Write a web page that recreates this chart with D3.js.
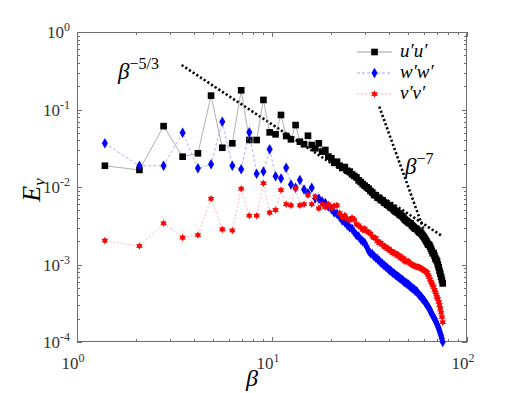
<!DOCTYPE html>
<html>
<head>
<meta charset="utf-8">
<script src="https://cdn.jsdelivr.net/npm/d3@7"></script>
<style>
  body { margin: 0; background: #fff; }
</style>
</head>
<body>
<div id="chart"></div>
<script>
// wavenumbers (beta)
var beta = [1.39,2.09,2.78,3.48,4.17,4.87,5.56,6.26,6.95,7.65,
  8.34,9.04,9.73,10.43,11.12,11.82,12.51,13.21,13.9,14.6,
  15.29,15.99,16.68,17.38,18.07,18.77,19.46,20.16,20.85,21.55,
  22.24,22.94,23.63,24.33,25.02,25.72,26.41,27.11,27.8,28.5,
  29.19,29.89,30.58,31.28,31.97,32.67,33.36,34.06,34.75,35.45,
  36.14,36.84,37.53,38.23,38.92,39.62,40.31,41.01,41.7,42.4,
  43.09,43.79,44.48,45.18,45.87,46.57,47.26,47.96,48.65,49.35,
  50.04,50.74,51.43,52.13,52.82,53.52,54.21,54.91,55.6,56.3,
  56.99,57.69,58.38,59.08,59.77,60.47,61.16,61.86,62.55,63.25,
  63.94,64.64,65.33,66.03,66.72,67.42,68.11,68.81,69.5,70.2,
  70.89,71.59,72.28,72.98,73.67,74.37,75.06];

var uu = [0.0188,0.0166,0.061,0.0246,0.0272,0.151,0.0321,0.0366,0.177,0.0404,
  0.0404,0.133,0.0507,0.0478,0.085,0.0455,0.0412,0.063,0.0384,0.0356,
  0.0459,0.0348,0.0316,0.0366,0.0286,0.030,0.0247,0.0235,0.0205,0.0212,
  0.0188,0.0176,0.0181,0.0162,0.0158,0.0146,0.0139,0.0133,0.0122,0.0116,
  0.0109,0.0104,0.0099,0.0095,0.0089,0.0085,0.0079,0.0078,0.0073,0.0072,
  0.0068,0.0067,0.0063,0.0062,0.0059,0.0058,0.0055,0.0054,0.0052,0.0050,
  0.0048,0.0047,0.0046,0.0044,0.0043,0.0042,0.0040,0.0038,0.0037,0.0036,
  0.0035,0.0034,0.0034,0.0032,0.0031,0.0030,0.0029,0.0029,0.0028,0.0027,
  0.0026,0.0026,0.0025,0.0024,0.0023,0.0022,0.0021,0.0020,0.0019,0.0018,
  0.0018,0.0017,0.0016,0.0015,0.0014,0.0014,0.0013,0.0012,0.00115,0.0011,
  0.0010,0.00092,0.00083,0.00076,0.00069,0.00063,0.00057];

var ww = [0.0366,0.0188,0.0188,0.0502,0.0174,0.0196,0.0697,0.0188,0.0169,0.0507,
  0.0148,0.0158,0.0306,0.0138,0.0129,0.0177,0.0108,0.0098,0.0123,0.0093,
  0.0083,0.0098,0.0071,0.0071,0.0065,0.0062,0.0056,0.0052,0.0047,0.0045,
  0.0041,0.0037,0.0035,0.0032,0.0030,0.0029,0.0026,0.0024,0.0023,0.0021,
  0.0020,0.0019,0.0017,0.0015,0.0014,0.00137,0.00128,0.00122,0.00118,0.00112,
  0.00106,0.00102,0.00098,0.00094,0.00091,0.00087,0.00084,0.00081,0.00078,0.00076,
  0.00073,0.00071,0.00069,0.00067,0.00065,0.00063,0.00061,0.00059,0.00058,0.00056,
  0.00055,0.00053,0.00052,0.00050,0.00049,0.00048,0.00046,0.00045,0.00044,0.00042,
  0.00040,0.00039,0.00038,0.00036,0.00035,0.00034,0.00032,0.00031,0.00030,0.00028,
  0.00027,0.00026,0.00024,0.00023,0.00022,0.00021,0.00020,0.00019,0.00018,0.00017,
  0.00016,0.00015,0.00014,0.00013,0.00012,0.00011,0.00010];

var vv = [0.00203,0.00173,0.0034,0.00222,0.0024,0.00706,0.00284,0.00275,0.0095,0.00426,
  0.00426,0.0112,0.00467,0.00505,0.00915,0.0060,0.0058,0.0096,0.0058,0.0060,
  0.0079,0.0060,0.0075,0.0053,0.0060,0.0055,0.0060,0.0053,0.0057,0.0058,
  0.0046,0.0041,0.0043,0.0039,0.0037,0.0040,0.0038,0.0033,0.0032,0.0030,
  0.0028,0.0029,0.0027,0.0026,0.0025,0.0023,0.0022,0.0022,0.0020,0.0019,
  0.0019,0.0018,0.0017,0.0017,0.0016,0.0016,0.0015,0.0015,0.0014,0.0014,
  0.0014,0.0013,0.0013,0.0013,0.0012,0.0012,0.0012,0.0011,0.0011,0.0011,
  0.0011,0.00105,0.00102,0.0010,0.00098,0.00096,0.00095,0.00094,0.00093,0.00093,
  0.00092,0.0009,0.00088,0.00087,0.00085,0.00083,0.00082,0.0008,0.00078,0.00073,
  0.00069,0.00064,0.0006,0.00057,0.00054,0.00051,0.00047,0.00044,0.00041,0.00038,
  0.00036,0.00033,0.0003,0.00027,0.00024,0.00021,0.00018];

var seriesNames = ["u\u2032u\u2032", "w\u2032w\u2032", "v\u2032v\u2032"];
// power-law guide lines: [beta, E] end points
var guide53 = [[3.44, 0.375], [75, 0.0023]];
var guide7 = [[35.5, 0.109], [59.7, 0.0029]];

var W = 512, H = 393;
var svg = d3.select("#chart").append("svg").attr("width", W).attr("height", H)
  .attr("font-family", "'Liberation Serif', 'Times New Roman', 'DejaVu Serif', serif");

var x = d3.scaleLog().domain([1, 100]).range([77, 467]);
var y = d3.scaleLog().domain([1e-4, 1]).range([342, 32]);

// minor + major ticks, all four sides, inside
var xt = [], yt = [];
for (var d = 1; d <= 100; d *= 10) for (var k = 1; k < 10; k++) if (d * k <= 100) xt.push(d * k);
for (var d = 1e-4; d <= 1.0001; d *= 10) for (var k = 1; k < 10; k++) if (d * k <= 1.0001) yt.push(d * k);
function isMajor(v) { var l = Math.log10(v); return Math.abs(l - Math.round(l)) < 1e-6; }

var g = svg.append("g").attr("stroke", "#6e6e6e").attr("stroke-width", 1);
xt.forEach(function(v) {
  var px = Math.round(x(v)) + 0.5, len = isMajor(v) ? 5 : 3;
  g.append("line").attr("x1", px).attr("x2", px).attr("y1", 342).attr("y2", 342 - len);
  g.append("line").attr("x1", px).attr("x2", px).attr("y1", 32).attr("y2", 32 + len);
});
yt.forEach(function(v) {
  var py = Math.round(y(v)) + 0.5, len = isMajor(v) ? 5 : 3;
  g.append("line").attr("y1", py).attr("y2", py).attr("x1", 77).attr("x2", 77 + len);
  g.append("line").attr("y1", py).attr("y2", py).attr("x1", 467).attr("x2", 467 - len);
});
svg.append("rect").attr("x", 77.5).attr("y", 32.5).attr("width", 389).attr("height", 309)
  .attr("fill", "none").attr("stroke", "#6e6e6e");

// tick labels
[1, 10, 100].forEach(function(v) {
  var t = svg.append("text").attr("x", x(v) - 4).attr("y", 369).attr("text-anchor", "middle")
    .attr("font-size", 17).attr("fill", "#333");
  t.append("tspan").text("10");
  t.append("tspan").attr("dy", -7).attr("font-size", 12).text(Math.round(Math.log10(v)));
});
[1e-4, 1e-3, 1e-2, 1e-1, 1].forEach(function(v) {
  var t = svg.append("text").attr("x", 70).attr("y", y(v) + 6).attr("text-anchor", "end")
    .attr("font-size", 17).attr("fill", "#333");
  t.append("tspan").text("10");
  t.append("tspan").attr("dy", -7).attr("font-size", 12).text(Math.round(Math.log10(v)));
});

// axis titles
svg.append("text").attr("x", 252).attr("y", 386).attr("text-anchor", "middle")
  .attr("font-size", 24).attr("font-style", "italic").text("\u03b2");
var yl = svg.append("text").attr("transform", "translate(40,190) rotate(-90)")
  .attr("text-anchor", "middle").attr("font-size", 26).attr("font-style", "italic");
yl.append("tspan").text("E");
yl.append("tspan").attr("dy", 5).attr("font-size", 17).text("\u03bd");

var plot = svg.append("g");

// guide lines
var gl = d3.line().x(function(d) { return x(d[0]); }).y(function(d) { return y(d[1]); });
[guide53, guide7].forEach(function(gd) {
  plot.append("path").attr("d", gl(gd)).attr("fill", "none").attr("stroke", "#000")
    .attr("stroke-width", 2.6).attr("stroke-dasharray", "2.2,2.2");
});

function guideLabel(px, py, sup) {
  var t = svg.append("text").attr("x", px).attr("y", py).attr("font-size", 23);
  t.append("tspan").attr("font-style", "italic").text("\u03b2");
  t.append("tspan").attr("dy", -10).attr("font-size", 16).text(sup);
}
guideLabel(118, 79, "\u22125/3");
guideLabel(405, 174, "\u22127");

// markers
function hexStar(size) {
  var pts = [], r1 = size, r2 = size * 0.55;
  for (var i = 0; i < 12; i++) {
    var a = Math.PI / 6 * i - Math.PI / 2, r = i % 2 ? r2 : r1;
    pts.push([r * Math.cos(a), r * Math.sin(a)]);
  }
  return "M" + pts.join("L") + "Z";
}
var sqPath = d3.symbol().type(d3.symbolSquare).size(44)();
var dmPath = d3.symbol().type(d3.symbolDiamond).size(32)();
var stPath = hexStar(3.8);

var series = [
  { vals: uu, color: "#000", line: "#8c8c8c", dash: null, marker: sqPath },
  { vals: ww, color: "#0000ff", line: "#8f8fff", dash: "3,2", marker: dmPath },
  { vals: vv, color: "#ff0000", line: "#ff9a9a", dash: "2,2", marker: stPath }
];

var line = d3.line().x(function(d) { return x(d[0]); }).y(function(d) { return y(d[1]); });

series.forEach(function(s) {
  var pts = beta.map(function(b, i) { return [b, s.vals[i]]; });
  plot.append("path").attr("d", line(pts)).attr("fill", "none")
    .attr("stroke", s.line).attr("stroke-width", 0.7).attr("stroke-dasharray", s.dash);
  plot.selectAll(null).data(pts).enter().append("path")
    .attr("d", s.marker).attr("fill", s.color)
    .attr("transform", function(d) { return "translate(" + x(d[0]) + "," + y(d[1]) + ")"; });
});

// legend
var lg = svg.append("g");
series.forEach(function(s, i) {
  var ly = 52 + i * 21;
  lg.append("line").attr("x1", 357).attr("x2", 392).attr("y1", ly).attr("y2", ly)
    .attr("stroke", s.line).attr("stroke-width", 0.8).attr("stroke-dasharray", s.dash);
  lg.append("path").attr("d", s.marker).attr("fill", s.color)
    .attr("transform", "translate(374.5," + ly + ")");
  lg.append("text").attr("x", 400).attr("y", ly + 5).attr("font-size", 19)
    .attr("font-style", "italic").text(seriesNames[i]);
});
</script>
</body>
</html>
